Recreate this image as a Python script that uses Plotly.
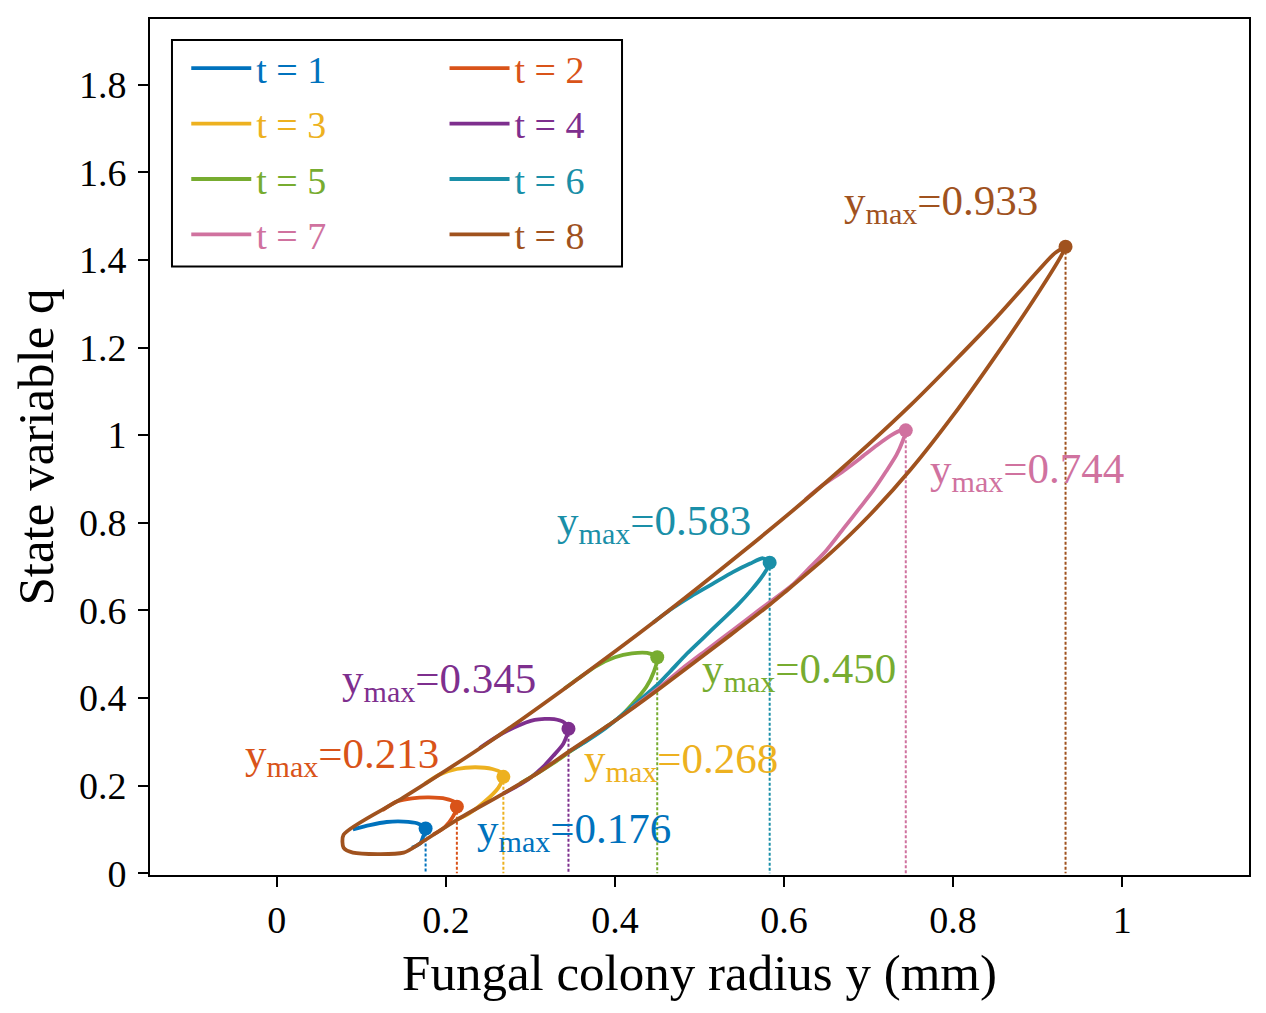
import plotly.graph_objects as go

# Dados: y = raio da colonia (mm), q = variavel de estado
nomes = ["t = 1", "t = 2", "t = 3", "t = 4", "t = 5", "t = 6", "t = 7", "t = 8"]
cores = ["#0072BD", "#D95319", "#EDB120", "#7E2F8E",
         "#77AC30", "#1A8FA8", "#D0729F", "#A0521E"]

# ponto maximo de cada ciclo
ymax = [0.176, 0.213, 0.268, 0.345, 0.450, 0.583, 0.744, 0.933]
qmax = [0.102, 0.152, 0.220, 0.330, 0.493, 0.709, 1.011, 1.430]
rotulos = ["0.176", "0.213", "0.268", "0.345", "0.450", "0.583", "0.744", "0.933"]

# posicao dos textos y_max (canto esquerdo, centro da linha)
texto_x = [0.2346, -0.0396, 0.361, 0.075, 0.5006, 0.329, 0.770, 0.6684]
texto_q = [0.0944, 0.265, 0.2537, 0.4358, 0.4585, 0.7975, 0.916, 1.528]

# curvas de cada ciclo
y_t1 = [0.090, 0.110, 0.130, 0.150, 0.166, 0.176, 0.173, 0.170, 0.160]
q_t1 = [0.100, 0.110, 0.117, 0.118, 0.114, 0.102, 0.083, 0.069, 0.058]

y_t2 = [0.125, 0.142, 0.160, 0.180, 0.200, 0.210, 0.213, 0.208, 0.199, 0.185]
q_t2 = [0.144, 0.164, 0.171, 0.173, 0.170, 0.163, 0.152, 0.128, 0.106, 0.088]

y_t3 = [0.175, 0.192, 0.213, 0.235, 0.255, 0.265, 0.268, 0.262, 0.245, 0.228, 0.213]
q_t3 = [0.204, 0.225, 0.238, 0.242, 0.238, 0.230, 0.220, 0.195, 0.162, 0.137, 0.122]

y_t4 = [0.240, 0.257, 0.280, 0.305, 0.328, 0.340, 0.345, 0.339, 0.327, 0.315,
        0.300, 0.288, 0.268]
q_t4 = [0.286, 0.308, 0.332, 0.350, 0.352, 0.344, 0.330, 0.296, 0.268, 0.243,
        0.218, 0.203, 0.182]

y_t5 = [0.340, 0.357, 0.378, 0.400, 0.420, 0.438, 0.450, 0.446, 0.437, 0.420,
        0.406, 0.385, 0.367, 0.347, 0.327, 0.310, 0.288]
q_t5 = [0.421, 0.445, 0.473, 0.493, 0.502, 0.503, 0.493, 0.460, 0.425, 0.385,
        0.357, 0.328, 0.304, 0.278, 0.251, 0.230, 0.205]

y_t6 = [0.445, 0.465, 0.490, 0.515, 0.540, 0.560, 0.575, 0.583, 0.575, 0.562,
        0.545, 0.525, 0.505, 0.485, 0.465, 0.449, 0.425, 0.405, 0.386, 0.365, 0.345]
q_t6 = [0.572, 0.601, 0.632, 0.660, 0.688, 0.707, 0.719, 0.709, 0.680, 0.648,
        0.612, 0.575, 0.538, 0.501, 0.460, 0.428, 0.388, 0.356, 0.327, 0.300, 0.277]

y_t7 = [0.625, 0.645, 0.670, 0.690, 0.710, 0.727, 0.738, 0.744, 0.740, 0.733,
        0.721, 0.706, 0.690, 0.670, 0.650, 0.630, 0.611, 0.572, 0.540, 0.510,
        0.480, 0.455, 0.420]
q_t7 = [0.853, 0.885, 0.918, 0.947, 0.977, 1.000, 1.011, 1.011, 0.985, 0.955,
        0.918, 0.875, 0.835, 0.786, 0.737, 0.697, 0.660, 0.603, 0.556, 0.512,
        0.468, 0.428, 0.376]

# t = 8: ramo superior, ramo inferior e fundo do ciclo
y_t8 = [0.079, 0.150, 0.250, 0.350, 0.450, 0.550, 0.650, 0.750, 0.850, 0.900,
        0.920, 0.933,
        0.928, 0.900, 0.850, 0.800, 0.750, 0.700, 0.650, 0.600, 0.583, 0.536,
        0.449, 0.400, 0.345, 0.308, 0.268, 0.213, 0.170, 0.150, 0.090, 0.079, 0.079]
q_t8 = [0.088, 0.173, 0.298, 0.435, 0.579, 0.732, 0.893, 1.069, 1.266, 1.374,
        1.415, 1.430,
        1.410, 1.323, 1.180, 1.045, 0.922, 0.815, 0.722, 0.640, 0.613, 0.543,
        0.416, 0.348, 0.277, 0.228, 0.182, 0.122, 0.069, 0.047, 0.047, 0.058, 0.088]

curvas_y = [y_t1, y_t2, y_t3, y_t4, y_t5, y_t6, y_t7, y_t8]
curvas_q = [q_t1, q_t2, q_t3, q_t4, q_t5, q_t6, q_t7, q_t8]

fonte = "Liberation Serif"

fig = go.Figure()

for i in range(8):
    # legenda dividida em duas colunas (impares / pares)
    leg = "legend" if i % 2 == 0 else "legend2"
    nome = "<span style='color:%s'>%s</span>" % (cores[i], nomes[i])
    grupo = "g%d" % i

    # linha vertical pontilhada ate o eixo
    fig.add_trace(go.Scatter(x=[ymax[i], ymax[i]], y=[qmax[i], 0], mode="lines",
                             line=dict(color=cores[i], width=2, dash="3px,2px"),
                             showlegend=False, hoverinfo="skip", legendgroup=grupo))
    # ciclo
    fig.add_trace(go.Scatter(x=curvas_y[i], y=curvas_q[i], mode="lines", name=nome,
                             line=dict(color=cores[i], width=3.8, shape="spline", smoothing=0.7),
                             legend=leg, legendgroup=grupo))
    # ponto maximo
    fig.add_trace(go.Scatter(x=[ymax[i]], y=[qmax[i]], mode="markers",
                             marker=dict(color=cores[i], size=14),
                             showlegend=False, legendgroup=grupo))

    fig.add_annotation(x=texto_x[i], y=texto_q[i], xanchor="left", yanchor="middle",
                       text="y<sub>max</sub>=" + rotulos[i], showarrow=False,
                       font=dict(family=fonte, size=43, color=cores[i]))

# moldura da legenda
fig.add_shape(type="rect", xref="paper", yref="paper", x0=0.02, x1=0.4295, y0=0.711, y1=0.9755,
              line=dict(color="black", width=2), fillcolor="white", layer="below")

eixo = dict(showline=True, linecolor="black", linewidth=2, mirror=True, showgrid=False,
            zeroline=False, ticks="outside", ticklen=10, tickwidth=2, tickcolor="black",
            tickfont=dict(family=fonte, size=38, color="black"))

leg_base = dict(y=0.979, xanchor="left", yanchor="top", bgcolor="rgba(0,0,0,0)",
                font=dict(family=fonte, size=38), itemwidth=60, tracegroupgap=3)

# a pagina tem 8 px de margem, por isso a figura fica um pouco menor
fig.update_layout(
    width=1258, height=1005,
    margin=dict(l=142, r=17, t=9, b=138),
    plot_bgcolor="white", paper_bgcolor="white",
    font=dict(family=fonte, color="black"),
    xaxis=dict(eixo, range=[-0.15, 1.15], tickvals=[0, 0.2, 0.4, 0.6, 0.8, 1],
               title=dict(text="Fungal colony radius y (mm)", font=dict(family=fonte, size=51))),
    yaxis=dict(eixo, range=[-0.004, 1.95], tickvals=[0, 0.2, 0.4, 0.6, 0.8, 1, 1.2, 1.4, 1.6, 1.8],
               ticklabelstandoff=4,
               title=dict(text="State variable q", font=dict(family=fonte, size=51))),
    legend=dict(leg_base, x=0.033),
    legend2=dict(leg_base, x=0.268),
)

fig.write_html("out.html")
